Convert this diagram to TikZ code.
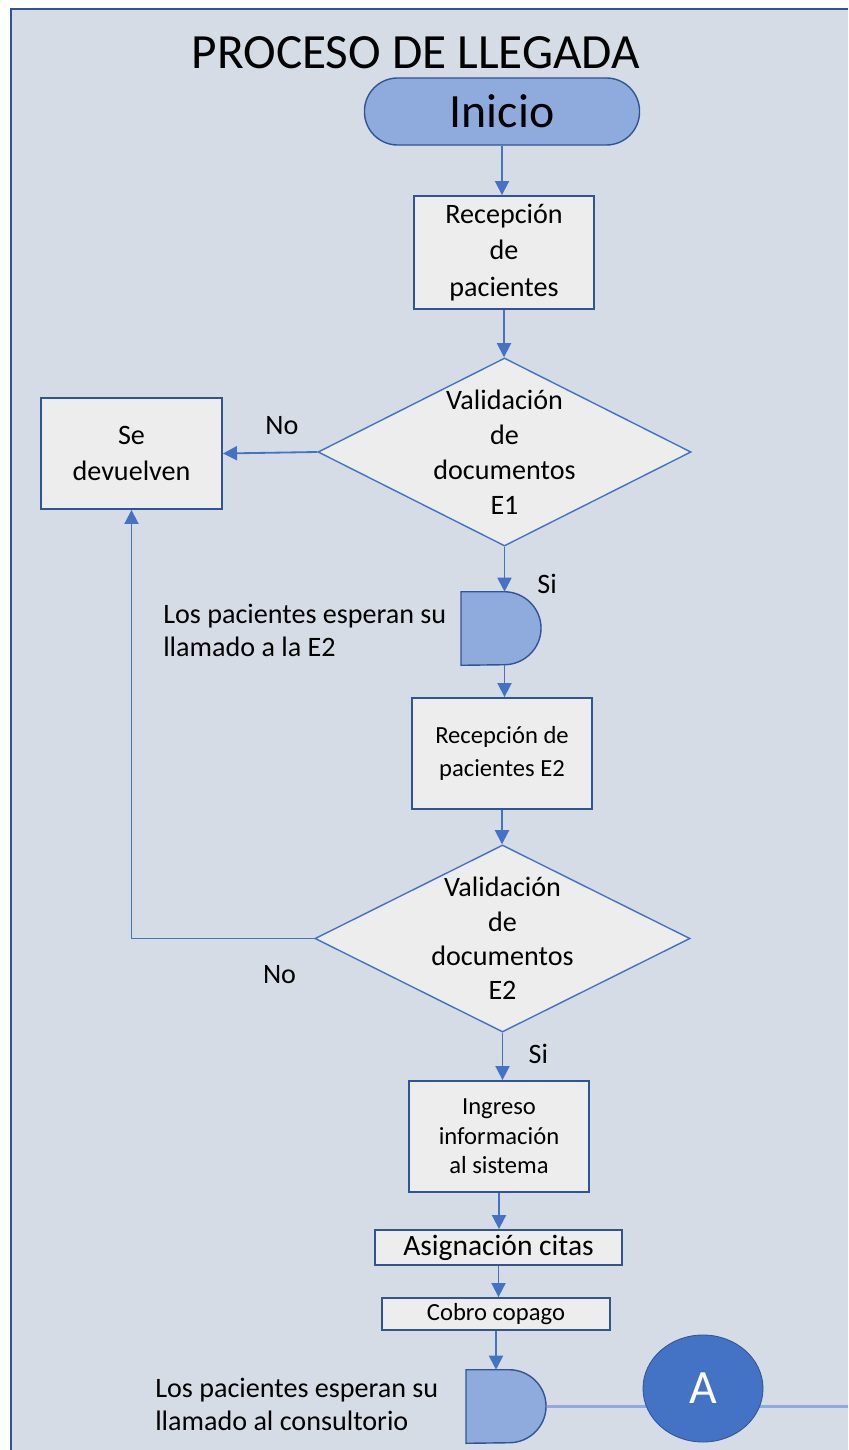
\documentclass[tikz,border=0pt]{standalone}
\usepackage{fontspec}
\setmainfont{Carlito}
\usetikzlibrary{shapes.geometric,arrows.meta}

\begin{document}
\begin{tikzpicture}[x=0.025cm,y=0.025cm]

    \definecolor{fondo}{HTML}{D6DCE5}
    \definecolor{caja}{HTML}{EDEDED}
    \definecolor{azul}{HTML}{4472C4}
    \definecolor{azul-osc}{HTML}{2F5597}
    \definecolor{azul-cl}{HTML}{8FAADC}

    \tikzset{
        proceso/.style = {rectangle, draw = azul-osc, line width = 1.3pt, fill = caja, align = center, inner sep = 0pt},
        decision/.style = {diamond, draw = azul, line width = 1pt, fill = caja, inner sep = 0pt},
        espera/.style = {rectangle, inner sep = 0pt, minimum width = 2cm, minimum height = 1.825cm},
        forma/.style = {draw = azul-osc, line width = 1pt, fill = azul-cl},
        flecha/.style = {azul, line width = 1.3pt, -{Triangle[length=10pt, width=10pt]}},
        etiqueta/.style = {text = black, font = \fontsize{20pt}{24pt}\selectfont, inner sep = 0pt},
    }

    \useasboundingbox (0,0) rectangle (848,-1450);
    \fill[white] (0,0) rectangle (848,-1450);
    \fill[fondo] (11,-9) rectangle (848,-1450);
    \draw[azul-osc, line width = 2pt] (11,-1450) -- (11,-9) -- (848,-9);

    \node[inner sep = 0pt, font = \fontsize{35pt}{40pt}\selectfont] (titulo) at (416,-53) {PROCESO DE LLEGADA};

    \node[rectangle, rounded corners = 0.83cm, forma, minimum width = 6.875cm, minimum height = 1.675cm, font = \fontsize{34pt}{40pt}\selectfont] (inicio) at (502,-111.5) {Inicio};

    \node[proceso, minimum width = 4.5cm, minimum height = 2.825cm, font = \fontsize{20pt}{26pt}\selectfont] (recep1) at (504,-252.5) {Recepción\\de\\pacientes};
    \node[proceso, minimum width = 4.525cm, minimum height = 2.775cm, font = \fontsize{20pt}{25.5pt}\selectfont] (devuelven) at (131.5,-453.5) {Se\\devuelven};
    \node[decision, minimum width = 9.325cm, minimum height = 4.7cm,
          label = {[etiqueta, align = center, font = \fontsize{20pt}{25pt}\selectfont]center:Validación\\de\\documentos\\E1}] (valid1) at (504.5,-452) {};

    % espera E2
    \node[espera] (espera1) at (461,-628.5) [anchor = west] {};
    \draw[forma] (espera1.south west) -- (espera1.north west) -- ++(1.075cm,0) arc[start angle = 90, end angle = -90, x radius = 0.925cm, y radius = 0.9125cm] -- cycle;
    \node[etiqueta, anchor = west, align = left, font = \fontsize{20pt}{23.4pt}\selectfont] (texto1) at (163,-630.5) {Los pacientes esperan su\\llamado a la E2};

    \node[proceso, minimum width = 4.5cm, minimum height = 2.775cm, font = \fontsize{17.5pt}{23pt}\selectfont] (recep2) at (502,-753.5) {Recepción de\\pacientes E2};
    \node[decision, minimum width = 9.375cm, minimum height = 4.675cm,
          label = {[etiqueta, align = center, font = \fontsize{20pt}{24.5pt}\selectfont]center:Validación\\de\\documentos\\E2}] (valid2) at (502.5,-938.5) {};

    \node[proceso, minimum width = 4.5cm, minimum height = 2.775cm, font = \fontsize{17.5pt}{21pt}\selectfont] (ingreso) at (499,-1136.5) {Ingreso\\información\\al sistema};
    \node[proceso, minimum width = 6.175cm, minimum height = 0.875cm, font = \fontsize{21pt}{24pt}\selectfont] (citas) at (498.5,-1247.5) {Asignación citas};
    \node[proceso, minimum width = 5.7cm, minimum height = 0.8cm, font = \fontsize{17.5pt}{21pt}\selectfont] (copago) at (496,-1314) {Cobro copago};

    % espera consultorio
    \node[espera] (espera2) at (466,-1406.5) [anchor = west] {};
    \draw[forma] (espera2.south west) -- (espera2.north west) -- ++(1.075cm,0) arc[start angle = 90, end angle = -90, x radius = 0.925cm, y radius = 0.9125cm] -- cycle;
    \node[etiqueta, anchor = west, align = left, font = \fontsize{20pt}{23.4pt}\selectfont] (texto2) at (155,-1404) {Los pacientes esperan su\\llamado al consultorio};

    \coordinate (fin) at (848,-1406.5);
    \draw[azul-cl, line width = 2.2pt] (espera2.east) -- (fin);
    \node[ellipse, fill = azul, draw = azul-osc, line width = 0.6pt, minimum width = 3cm, minimum height = 2.675cm, inner sep = 0pt, text = white, font = \fontsize{34pt}{40pt}\selectfont] (conA) at (703,-1388.5) {A};

    % flechas
    \draw[flecha] (inicio.south) -- (inicio.south |- recep1.north);
    \draw[flecha] (recep1.south) -- (recep1.south |- valid1.north);
    \draw[flecha] (valid1.west) -- node[etiqueta, pos = 0.375, above = 0.42cm] {No} (devuelven.east);
    \draw[flecha] (valid1.south) -- node[etiqueta, pos = 0.83, right = 0.8cm] {Si} (valid1.south |- espera1.north);
    \draw[flecha] (valid1.south |- espera1.south) -- (valid1.south |- recep2.north);
    \draw[flecha] (recep2.south) -- (recep2.south |- valid2.north);
    \draw[flecha] (valid2.west) -- node[etiqueta, pos = 0.19, below = 0.65cm] {No} (devuelven.south |- valid2.west) -- (devuelven.south);
    \draw[flecha] (valid2.south) -- node[etiqueta, pos = 0.44, right = 0.63cm] {Si} (valid2.south |- ingreso.north);
    \draw[flecha] (ingreso.south) -- (ingreso.south |- citas.north);
    \draw[flecha] (citas.south) -- (citas.south |- copago.north);
    \draw[flecha] (copago.south) -- (copago.south |- espera2.north);

\end{tikzpicture}
\end{document}
